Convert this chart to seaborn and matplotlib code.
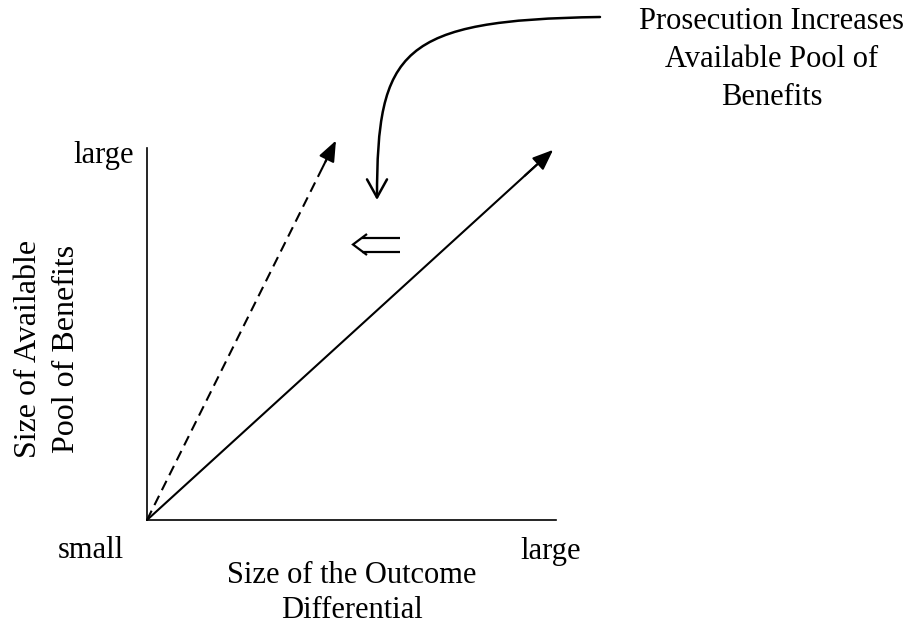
import numpy as np
import pandas as pd
import matplotlib
matplotlib.use("Agg")
import matplotlib.pyplot as plt
import seaborn as sns
from matplotlib.path import Path
from matplotlib.patches import FancyArrowPatch

sns.set_style("white")
plt.rcParams['font.family'] = ['Liberation Serif', 'DejaVu Sans']
plt.rcParams['text.color'] = 'black'

# 数据 (0 = small, 1 = large)
line_names = ['after', 'before']
end_x = [0.993, 0.462]
end_y = [0.995, 1.02]
line_styles = ['-', '--']

x_label = 'Size of the Outcome\nDifferential'
y_label = 'Size of Available\nPool of Benefits'
note = 'Prosecution Increases\nAvailable Pool of\nBenefits'

df = pd.DataFrame({
    'name': np.repeat(line_names, 2),
    'x': np.ravel([[0, e] for e in end_x]),
    'y': np.ravel([[0, e] for e in end_y]),
})

fig = plt.figure(figsize=(9.05, 6.25), dpi=100)
ax = fig.add_axes([147 / 905, 105 / 625, 409 / 905, 372 / 625])

for name, ls in zip(line_names, line_styles):
    d = df[df['name'] == name]
    x0, x1 = d['x'].values
    y0, y1 = d['y'].values
    # 线段到箭头底部为止
    k = 0.96
    seg = pd.DataFrame({'x': [x0, x0 + (x1 - x0) * k], 'y': [y0, y0 + (y1 - y0) * k]})
    sns.lineplot(data=seg, x='x', y='y', ax=ax, color='black', lw=1.5,
                 linestyle='-' if ls == '-' else (0, (5, 3)), clip_on=False,
                 sort=False, estimator=None)
    ax.annotate('', xy=(x1, y1), xytext=(x0 + (x1 - x0) * 0.93, y0 + (y1 - y0) * 0.93),
                arrowprops=dict(arrowstyle='-|>,head_length=0.9,head_width=0.36',
                                color='black', lw=1.5, shrinkA=0, shrinkB=0,
                                mutation_scale=14),
                annotation_clip=False)

ax.set_xlim(0, 1)
ax.set_ylim(0, 1)
ax.set_xticks([])
ax.set_yticks([])
ax.set_xlabel('')
ax.set_ylabel('')
sns.despine(ax=ax)
for s in ['left', 'bottom']:
    ax.spines[s].set_linewidth(1.2)
    ax.spines[s].set_color('black')

fs = 22
ax.text(-0.137, -0.083, 'small', fontsize=fs, ha='center', va='center')
ax.text(-0.107, 0.98, 'large', fontsize=fs, ha='center', va='center')
ax.text(0.988, -0.085, 'large', fontsize=fs, ha='center', va='center')
ax.text(0.5, -0.196, x_label, fontsize=fs, ha='center', va='center', linespacing=1.3)
ax.text(-0.243, 0.46, y_label, fontsize=23, ha='center', va='center',
        rotation=90, linespacing=1.42)
ax.text(1.528, 1.238, note, fontsize=fs, ha='center', va='center', linespacing=1.43)


def px(x, y):
    return ((x - 147) / 409, (520 - y) / 372)


# 空心箭头 (⇐)
for pts in ([(400, 237.5), (362, 237.5)], [(400, 251.5), (362, 251.5)],
            [(367, 234), (353, 244.5), (367, 255)]):
    xs, ys = zip(*[px(*p) for p in pts])
    ax.plot(xs, ys, color='black', lw=1.6, clip_on=False,
            solid_joinstyle='miter', solid_capstyle='butt')

# 弯曲箭头
verts = [px(600, 17), px(400, 20), px(377, 50), px(377, 200)]
path = Path(verts, [Path.MOVETO, Path.CURVE4, Path.CURVE4, Path.CURVE4])
arr = FancyArrowPatch(path=path, arrowstyle='->,head_length=0.65,head_width=0.36',
                      color='black', lw=1.8, mutation_scale=20,
                      transform=ax.transData, clip_on=False)
ax.add_patch(arr)

fig.savefig('out.png', dpi=100)
